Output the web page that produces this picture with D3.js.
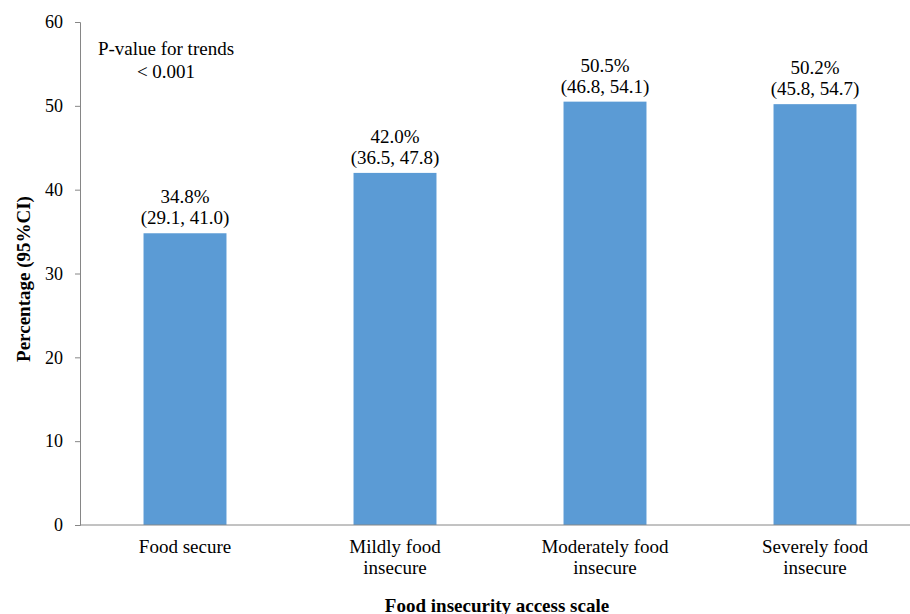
<!DOCTYPE html>
<html>
<head>
<meta charset="utf-8">
<script src="https://cdn.jsdelivr.net/npm/d3@7"></script>
<style>
  body { margin: 0; background: #fff; }
</style>
</head>
<body>
<div id="chart"></div>
<script>
const categories = [["Food secure"], ["Mildly food", "insecure"], ["Moderately food", "insecure"], ["Severely food", "insecure"]];
const values = [34.8, 42.0, 50.5, 50.2];
const ciLow = [29.1, 36.5, 46.8, 45.8];
const ciHigh = [41.0, 47.8, 54.1, 54.7];
const yTicks = [0, 10, 20, 30, 40, 50, 60];

const W = 910, H = 614;
const margin = {top: 22, right: -10, bottom: 89, left: 80};
const FONT = "'Liberation Serif', 'Times New Roman', Times, serif";
const FS = 19;

const svg = d3.select("#chart").append("svg")
    .attr("width", W)
    .attr("height", H)
    .attr("font-family", FONT);

const x = d3.scaleBand()
    .domain(d3.range(values.length))
    .range([margin.left, W - margin.right])
    .paddingInner(0.605)
    .paddingOuter(0.3025);

const y = d3.scaleLinear()
    .domain([0, 60])
    .range([H - margin.bottom, margin.top]);

// bars
svg.selectAll("rect.bar")
    .data(values)
    .enter()
    .append("rect")
    .attr("class", "bar")
    .attr("x", (d, i) => x(i))
    .attr("y", d => y(d))
    .attr("width", x.bandwidth())
    .attr("height", d => y(0) - y(d))
    .attr("fill", "#5B9BD5");

// y axis
const yAxis = svg.append("g")
    .attr("transform", `translate(${margin.left},0)`)
    .call(d3.axisLeft(y).tickValues(yTicks).tickSize(5).tickPadding(12));
yAxis.attr("font-family", FONT).attr("font-size", 18);
yAxis.select(".domain").attr("stroke", "#868686");
yAxis.selectAll(".tick line").attr("stroke", "#868686");
yAxis.selectAll(".tick text").attr("fill", "#000");

// x axis line
svg.append("line")
    .attr("x1", margin.left)
    .attr("x2", W)
    .attr("y1", y(0))
    .attr("y2", y(0))
    .attr("stroke", "#868686");

// category labels
categories.forEach((lines, i) => {
    const t = svg.append("text")
        .attr("text-anchor", "middle")
        .attr("font-size", FS)
        .attr("x", x(i) + x.bandwidth() / 2)
        .attr("y", y(0) + 28);
    lines.forEach((l, j) => {
        t.append("tspan")
            .attr("x", x(i) + x.bandwidth() / 2)
            .attr("dy", j === 0 ? 0 : 21)
            .text(l);
    });
});

// value labels
values.forEach((v, i) => {
    const cx = x(i) + x.bandwidth() / 2;
    svg.append("text")
        .attr("text-anchor", "middle")
        .attr("font-size", FS)
        .attr("x", cx)
        .attr("y", y(v) - 30)
        .text(v.toFixed(1) + "%");
    svg.append("text")
        .attr("text-anchor", "middle")
        .attr("font-size", FS)
        .attr("x", cx)
        .attr("y", y(v) - 9)
        .text(`(${ciLow[i].toFixed(1)}, ${ciHigh[i].toFixed(1)})`);
});

// p-value note
svg.append("text")
    .attr("x", 166)
    .attr("y", 55)
    .attr("text-anchor", "middle")
    .attr("font-size", FS)
    .text("P-value for trends");
svg.append("text")
    .attr("x", 166)
    .attr("y", 78)
    .attr("text-anchor", "middle")
    .attr("font-size", FS)
    .text("< 0.001");

// axis titles
svg.append("text")
    .attr("text-anchor", "middle")
    .attr("x", 497)
    .attr("y", 612)
    .attr("font-size", FS)
    .attr("font-weight", "bold")
    .text("Food insecurity access scale");

svg.append("text")
    .attr("text-anchor", "middle")
    .attr("transform", "translate(30,279) rotate(-90)")
    .attr("font-size", FS)
    .attr("font-weight", "bold")
    .text("Percentage (95%CI)");
</script>
</body>
</html>
